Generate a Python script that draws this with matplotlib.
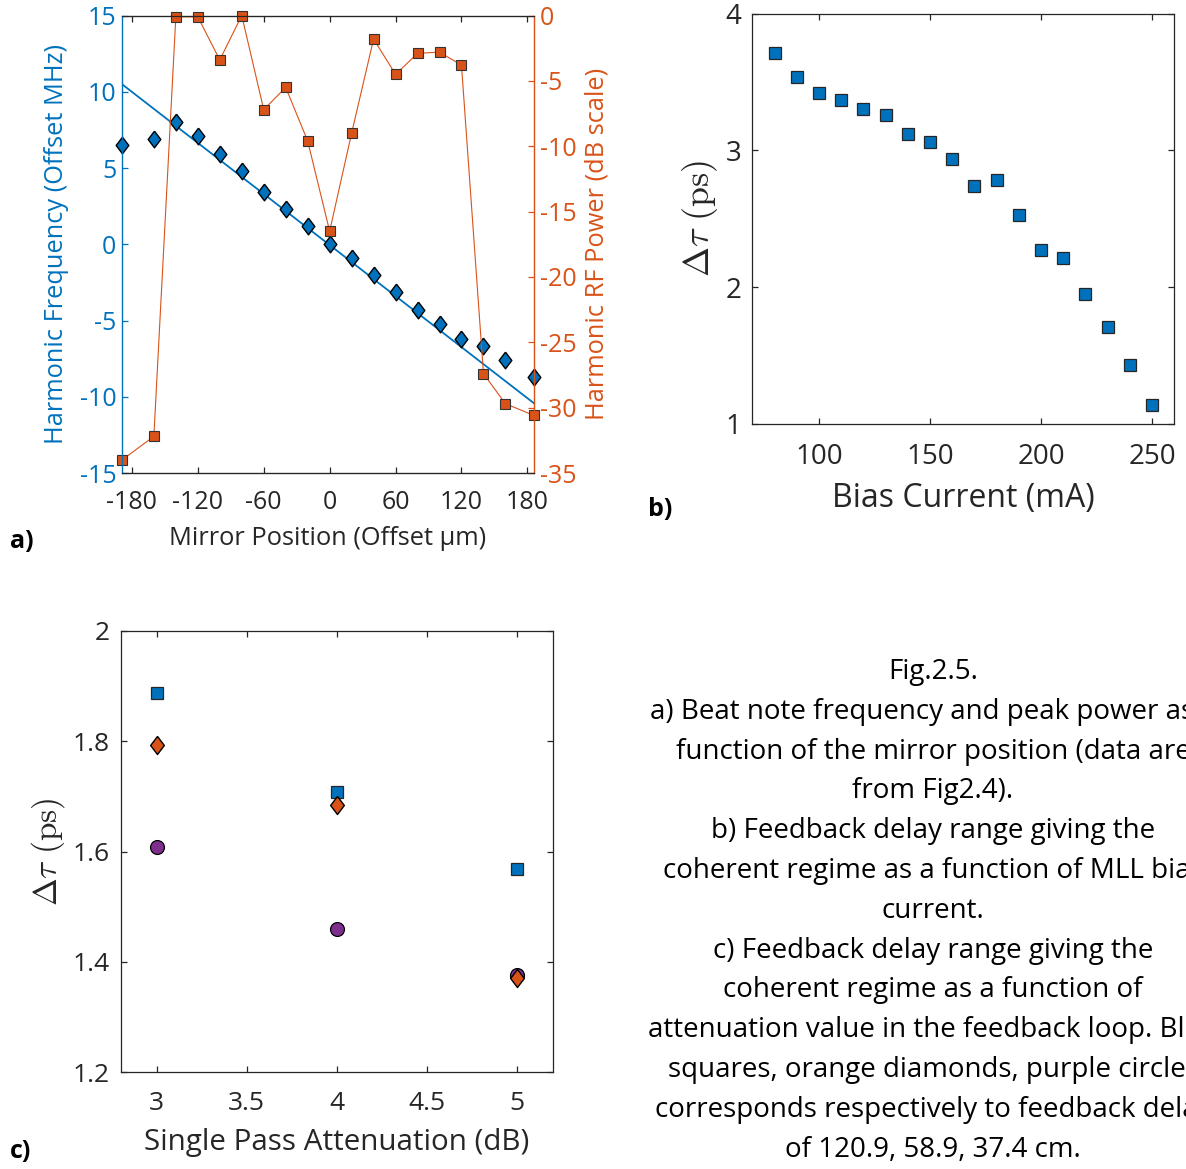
import numpy as np
import matplotlib
matplotlib.use('Agg')
import matplotlib.pyplot as plt

plt.rcParams['font.family'] = ['Open Sans', 'DejaVu Sans']
plt.rcParams['mathtext.fontset'] = 'cm'
plt.rcParams['axes.unicode_minus'] = False

BLUE = '#0072BD'
ORANGE = '#D95319'
PURPLE = '#7E2F8E'
GRAY = '#262626'

# MATLAB-style diamond: taller than wide
DIAMOND = [(0, 1), (0.76, 0), (0, -1), (-0.76, 0), (0, 1)]

# panel a: mirror scan
mirror_pos = [-189, -160, -140, -120, -100, -80, -60, -40, -20, 0,
              20, 40, 60, 80, 100, 120, 140, 160, 186]
harm_freq = [6.5, 6.9, 8.0, 7.1, 5.9, 4.8, 3.4, 2.3, 1.2, 0.0,
             -0.9, -2.0, -3.1, -4.3, -5.2, -6.2, -6.7, -7.6, -8.7]
rf_power = [-34.0, -32.2, -0.1, -0.1, -3.4, 0.0, -7.2, -5.5, -9.6, -16.5,
            -9.0, -1.8, -4.5, -2.9, -2.8, -3.8, -27.4, -29.7, -30.6]
fit_slope = -0.0558
fit_intercept = -0.05

# panel b: bias current scan
bias_current = [80, 90, 100, 110, 120, 130, 140, 150, 160,
                170, 180, 190, 200, 210, 220, 230, 240, 250]
dtau_bias = [3.71, 3.54, 3.42, 3.37, 3.30, 3.26, 3.12, 3.06, 2.94,
             2.74, 2.78, 2.53, 2.27, 2.21, 1.95, 1.71, 1.43, 1.14]

# panel c: attenuation scan (delays 120.9, 58.9, 37.4 cm)
attenuation = [3, 4, 5]
dtau_120 = [1.888, 1.708, 1.569]
dtau_59 = [1.793, 1.684, 1.370]
dtau_37 = [1.609, 1.459, 1.376]

caption = [
    'Fig.2.5.',
    'a) Beat note frequency and peak power as a',
    'function of the mirror position (data are',
    'from Fig2.4).',
    'b) Feedback delay range giving the',
    'coherent regime as a function of MLL bias',
    'current.',
    'c) Feedback delay range giving the',
    'coherent regime as a function of',
    'attenuation value in the feedback loop. Blue',
    'squares, orange diamonds, purple circles',
    'corresponds respectively to feedback delay',
    'of 120.9, 58.9, 37.4 cm.',
]

W, H = 1186, 1169
fig = plt.figure(figsize=(W / 100, H / 100), dpi=100)


def box_axes(ax, fs, pad):
    for s in ax.spines.values():
        s.set_color(GRAY)
        s.set_linewidth(0.9)
    ax.tick_params(direction='in', length=4, width=0.9, color=GRAY,
                   labelcolor=GRAY, labelsize=fs, top=True, right=True, pad=pad)


# ---- a)
ax1 = fig.add_axes([122 / W, 1 - 473 / H, 412 / W, 457.5 / H])
ax2 = ax1.twinx()
x = np.array(mirror_pos)
ax1.plot(x[[0, -1]], fit_slope * x[[0, -1]] + fit_intercept, color=BLUE, lw=1.3)
ax1.plot(mirror_pos, harm_freq, ls='none', marker=DIAMOND, ms=12, mfc=BLUE,
         mec='black', mew=1.0, clip_on=False, zorder=5)
ax2.plot(mirror_pos, rf_power, '-s', color=ORANGE, lw=0.8, ms=7,
         mfc=ORANGE, mec='#333333', mew=0.8, clip_on=False)
ax1.set_xlim(-189, 186)
ax1.set_ylim(-15, 15)
ax2.set_ylim(-35, 0)
ax1.set_xticks([-180, -120, -60, 0, 60, 120, 180])
ax1.set_yticks(range(-15, 16, 5))
ax2.set_yticks(range(-35, 1, 5))
for s in ax2.spines.values():
    s.set_linewidth(0.9)
ax2.spines['top'].set_color(GRAY)
ax2.spines['bottom'].set_color(GRAY)
ax2.spines['left'].set_color(BLUE)
ax2.spines['right'].set_color(ORANGE)
ax1.tick_params(axis='x', direction='in', length=4, width=0.9, color=GRAY,
                labelcolor=GRAY, labelsize=18, top=True, pad=12)
ax1.tick_params(axis='y', direction='in', length=4, width=0.9, color=BLUE,
                labelcolor=BLUE, labelsize=18, pad=4)
ax2.tick_params(axis='y', direction='in', length=4, width=0.9, color=ORANGE,
                labelcolor=ORANGE, labelsize=18, pad=4)
ax1.set_xlabel('Mirror Position (Offset μm)', fontsize=18.3, color=GRAY, labelpad=8)
ax1.set_ylabel('Harmonic Frequency (Offset MHz)', fontsize=18.3, color=BLUE, labelpad=8)
ax2.set_ylabel('Harmonic RF Power (dB scale)', fontsize=18.3, color=ORANGE, labelpad=6)

# ---- b)
axb = fig.add_axes([752.3 / W, 1 - 423.7 / H, 422 / W, 410 / H])
axb.plot(bias_current, dtau_bias, 's', ms=8.5, mfc=BLUE, mec=GRAY, mew=0.9,
         clip_on=False)
axb.set_xlim(70, 260)
axb.set_ylim(1, 4)
axb.set_xticks([100, 150, 200, 250])
axb.set_yticks([1, 2, 3, 4])
box_axes(axb, 20, 14)
axb.tick_params(axis='y', pad=8)
axb.set_xlabel('Bias Current (mA)', fontsize=23, color=GRAY, labelpad=8)
axb.set_ylabel(r'$\Delta\tau\ \mathrm{(ps)}$', fontsize=26, color=GRAY, labelpad=4)

# ---- c)
axc = fig.add_axes([120.7 / W, 1 - 1072 / H, 432 / W, 441 / H])
axc.plot(attenuation, dtau_120, 's', ms=8.5, mfc=BLUE, mec=GRAY, mew=0.9)
axc.plot(attenuation, dtau_37, 'o', ms=10, mfc=PURPLE, mec='black', mew=0.9)
axc.plot(attenuation, dtau_59, ls='none', marker=DIAMOND, ms=13, mfc=ORANGE,
         mec='black', mew=1.0)
axc.set_xlim(2.8, 5.2)
axc.set_ylim(1.2, 2.0)
axc.set_xticks([3, 3.5, 4, 4.5, 5])
axc.set_xticklabels(['3', '3.5', '4', '4.5', '5'])
axc.set_yticks([1.2, 1.4, 1.6, 1.8, 2.0])
axc.set_yticklabels(['1.2', '1.4', '1.6', '1.8', '2'])
box_axes(axc, 19, 14)
axc.tick_params(axis='y', pad=8)
axc.set_xlabel('Single Pass Attenuation (dB)', fontsize=21.3, color=GRAY, labelpad=8)
axc.set_ylabel(r'$\Delta\tau\ \mathrm{(ps)}$', fontsize=24, color=GRAY, labelpad=4)

# panel tags
fig.text(10 / W, 1 - 542 / H, 'a)', fontsize=18, fontweight='bold', va='center')
fig.text(648 / W, 1 - 510 / H, 'b)', fontsize=18, fontweight='bold', va='center')
fig.text(10 / W, 1 - 1152 / H, 'c)', fontsize=18, fontweight='bold', va='center')

# caption (runs past the right edge, as in the original figure)
for i, line in enumerate(caption):
    fig.text(933 / W, 1 - (672 + i * 39.8) / H, line, fontsize=20,
             ha='center', va='center', color='black')

fig.savefig('out.png', dpi=100)
